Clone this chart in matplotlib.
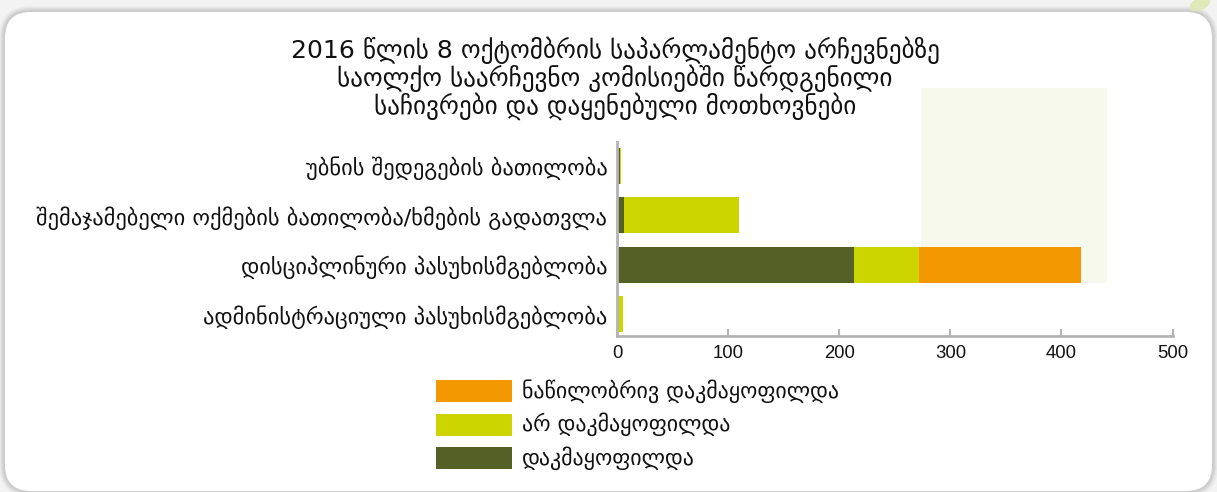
import matplotlib
matplotlib.use('Agg')
import matplotlib.pyplot as plt
from matplotlib.patches import FancyBboxPatch, Rectangle, Ellipse
from matplotlib import font_manager
from matplotlib.ft2font import FT2Font

# ---------------- data ----------------
title_lines = [
    "2016 წლის 8 ოქტომბრის საპარლამენტო არჩევნებზე",
    "საოლქო საარჩევნო კომისიებში წარდგენილი",
    "საჩივრები და დაყენებული მოთხოვნები",
]
categories = [
    "უბნის შედეგების ბათილობა",
    "შემაჯამებელი ოქმების ბათილობა/ხმების გადათვლა",
    "დისციპლინური პასუხისმგებლობა",
    "ადმინისტრაციული პასუხისმგებლობა",
]
satisfied = [3, 6, 213, 0]          # დაკმაყოფილდა
not_satisfied = [1, 104, 59, 5]     # არ დაკმაყოფილდა
partially = [0, 0, 146, 0]          # ნაწილობრივ დაკმაყოფილდა
legend_labels = ["ნაწილობრივ დაკმაყოფილდა", "არ დაკმაყოფილდა", "დაკმაყოფილდა"]
xticks = [0, 100, 200, 300, 400, 500]

# ---------------- font choice (caps-style Georgian if available) ----------------
FONT = ["DejaVu Sans"]
USE_MTAVRULI = False
for fam in ["DejaVu Sans", "Noto Sans", "Liberation Sans", "Open Sans", "Roboto", "Lato", "Inter"]:
    try:
        path = font_manager.findfont(font_manager.FontProperties(family=fam), fallback_to_default=False)
        cmap = FT2Font(path).get_charmap()
        if all((0x1C90 + k) in cmap for k in range(0x2B)):
            FONT = [fam, "DejaVu Sans"]
            USE_MTAVRULI = True
            break
    except Exception:
        pass


def cap(s):
    if not USE_MTAVRULI:
        return s
    out = []
    for ch in s:
        o = ord(ch)
        if 0x10D0 <= o <= 0x10FA or 0x10FD <= o <= 0x10FF:
            out.append(chr(o - 0x10D0 + 0x1C90))
        else:
            out.append(ch)
    return "".join(out)


# ---------------- style ----------------
C_PART = "#f39800"
C_NOT = "#ccd500"
C_SAT = "#556027"
NUMFONT = ["Liberation Sans", "DejaVu Sans"]

W, H = 1217, 492
fig = plt.figure(figsize=(W / 100, H / 100), dpi=100)
fig.patch.set_facecolor("#f3f3f3")
T = fig.dpi_scale_trans


def box(x0, y0, x1, y1):
    """pixel box (top-left origin) -> inches (bottom-left origin)"""
    return x0 / 100, (H - y1) / 100, (x1 - x0) / 100, (y1 - y0) / 100


# soft shadow + white rounded panel
for i, a in enumerate([0.05, 0.06, 0.07, 0.08, 0.10]):
    g = 6 - i
    x, y, w, h = box(5 - g, 12 - g, 1212 + g, 491 + g)
    fig.patches.append(FancyBboxPatch((x, y), w, h,
                                      boxstyle="round,pad=0,rounding_size=%f" % ((26 + g) / 100),
                                      transform=T, facecolor="#808080", edgecolor="none",
                                      alpha=a, zorder=0))
x, y, w, h = box(5, 12, 1212, 491)
fig.patches.append(FancyBboxPatch((x, y), w, h,
                                  boxstyle="round,pad=0,rounding_size=0.26",
                                  transform=T, facecolor="white", edgecolor="none", zorder=1))
# faint leaf in top-right corner
fig.patches.append(Ellipse((1200 / 100, (H - 4) / 100), 0.22, 0.12, angle=25,
                           transform=T, facecolor="#dfe8b8", edgecolor="none", zorder=0.5))

# pale highlight rectangle
x, y, w, h = box(921, 88, 1107, 283)
fig.patches.append(Rectangle((x, y), w, h, transform=T, facecolor="#f7f9ec",
                             edgecolor="none", zorder=1.5))

renderer = fig.canvas.get_renderer()


def fit_size(txt, target_w, base=14):
    t = fig.text(0, 0, txt, fontsize=base, family=FONT)
    wpx = t.get_window_extent(renderer).width
    t.remove()
    return base * target_w / wpx


# ---------------- title ----------------
ts = fit_size(cap(title_lines[0]), 651)
for i, line in enumerate(title_lines):
    fig.text(615 / W, 1 - (50 + 28 * i) / H, cap(line), ha="center", va="center",
             fontsize=ts, family=FONT, color="#111111", zorder=3)

# ---------------- axes ----------------
ax = fig.add_axes([617 / W, 1 - 335.5 / H, (1172.5 - 617) / W, (335.5 - 141.7) / H])
ax.set_facecolor("none")
ax.set_zorder(2)
ypos = list(range(len(categories)))
bh = 0.73
left2 = [a + b for a, b in zip(satisfied, not_satisfied)]
ax.barh(ypos, satisfied, height=bh, color=C_SAT, label=legend_labels[2])
ax.barh(ypos, not_satisfied, left=satisfied, height=bh, color=C_NOT, label=legend_labels[1])
ax.barh(ypos, partially, left=left2, height=bh, color=C_PART, label=legend_labels[0])
ax.set_xlim(0, 500)
ax.set_ylim(3.43, -0.49)
ax.set_xticks(xticks)
ax.set_xticklabels([str(v) for v in xticks], family=NUMFONT, fontsize=13.3, color="#111111")
ax.tick_params(axis="x", direction="in", length=5, width=1.5, color="#b4b4b4", pad=7)
ax.set_yticks(ypos)
ls = fit_size(cap(categories[2]), 367)
ax.set_yticklabels([cap(c) for c in categories], family=FONT, fontsize=ls, color="#111111")
ax.tick_params(axis="y", length=0, pad=7)
for s in ["top", "right"]:
    ax.spines[s].set_visible(False)
for s in ["left", "bottom"]:
    ax.spines[s].set_color("#b4b4b4")
    ax.spines[s].set_linewidth(2)

# ---------------- legend ----------------
gs = fit_size(cap(legend_labels[0]), 318)
leg_colors = [C_PART, C_NOT, C_SAT]
for i, (lab, col) in enumerate(zip(legend_labels, leg_colors)):
    y0 = 380 + 33.5 * i
    x, y, w, h = box(436, y0, 512, y0 + 22)
    fig.patches.append(Rectangle((x, y), w, h, transform=T, facecolor=col,
                                 edgecolor="none", zorder=3))
    fig.text(522 / W, 1 - (y0 + 11) / H, cap(lab), ha="left", va="center",
             fontsize=gs, family=FONT, color="#111111", zorder=3)

fig.savefig("out.png", dpi=100, facecolor=fig.get_facecolor())
